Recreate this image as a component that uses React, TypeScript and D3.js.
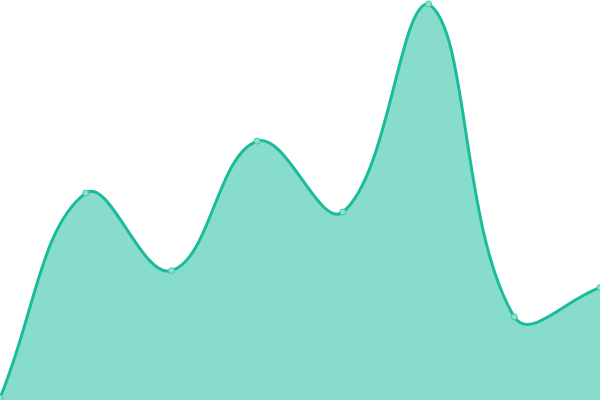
import { useEffect, useRef } from 'react'
import * as d3 from 'd3'

const categories = ['A', 'B', 'C', 'D', 'E', 'F', 'G', 'H']
const values = [0, 520, 323, 652, 472, 1000, 206, 280]

const width = 600
const height = 400
const tension = 0.4

// spline through points with control points scaled by neighbour distances,
// capped to the drawing area (so the peaks round off instead of overshooting)
function splinePath(pts: [number, number][], baseline?: number) {
  const p = d3.path()
  const clampX = (v: number) => Math.max(0, Math.min(width, v))
  const clampY = (v: number) => Math.max(0, Math.min(height, v))
  const cps = pts.map((cur, i) => {
    const prev = pts[i - 1] || cur
    const next = pts[i + 1] || cur
    const d01 = Math.hypot(cur[0] - prev[0], cur[1] - prev[1])
    const d12 = Math.hypot(next[0] - cur[0], next[1] - cur[1])
    const s01 = d01 / (d01 + d12) || 0
    const s12 = d12 / (d01 + d12) || 0
    const fa = tension * s01
    const fb = tension * s12
    return {
      before: [clampX(cur[0] - fa * (next[0] - prev[0])), clampY(cur[1] - fa * (next[1] - prev[1]))],
      after: [clampX(cur[0] + fb * (next[0] - prev[0])), clampY(cur[1] + fb * (next[1] - prev[1]))],
    }
  })
  p.moveTo(pts[0][0], pts[0][1])
  for (let i = 1; i < pts.length; i++) {
    const a = cps[i - 1].after
    const b = cps[i].before
    p.bezierCurveTo(a[0], a[1], b[0], b[1], pts[i][0], pts[i][1])
  }
  if (baseline !== undefined) {
    p.lineTo(pts[pts.length - 1][0], baseline)
    p.lineTo(pts[0][0], baseline)
    p.closePath()
  }
  return p.toString()
}

export default function App() {
  const svgRef = useRef<SVGSVGElement>(null)

  useEffect(() => {
    if (!svgRef.current) return
    const svg = d3.select(svgRef.current)
    svg.selectAll('*').remove()

    const x = d3.scalePoint<string>().domain(categories).range([0, width])
    const y = d3.scaleLinear().domain([0, 1000]).range([398, 4])

    const pts = values.map((v, i) => [x(categories[i])!, y(v)] as [number, number])

    // filled area
    svg.append('path')
      .attr('d', splinePath(pts, height))
      .style('fill', '#1abc9c')
      .style('fill-opacity', 0.52)

    // outline
    svg.append('path')
      .attr('d', splinePath(pts))
      .style('fill', 'none')
      .style('stroke', '#1abc9c')
      .style('stroke-width', 3)

    // data points
    svg.selectAll('circle')
      .data(values)
      .enter().append('circle')
      .attr('cx', (_, i) => x(categories[i])!)
      .attr('cy', d => y(d))
      .attr('r', 3)
      .style('fill', '#8ee0cf')
      .style('stroke', '#3fc7aa')
      .style('stroke-width', 1)
  }, [])

  return (
    <svg
      ref={svgRef}
      width={width}
      height={height}
      style={{ position: 'fixed', left: 0, top: 0, background: 'white' }}
    />
  )
}
